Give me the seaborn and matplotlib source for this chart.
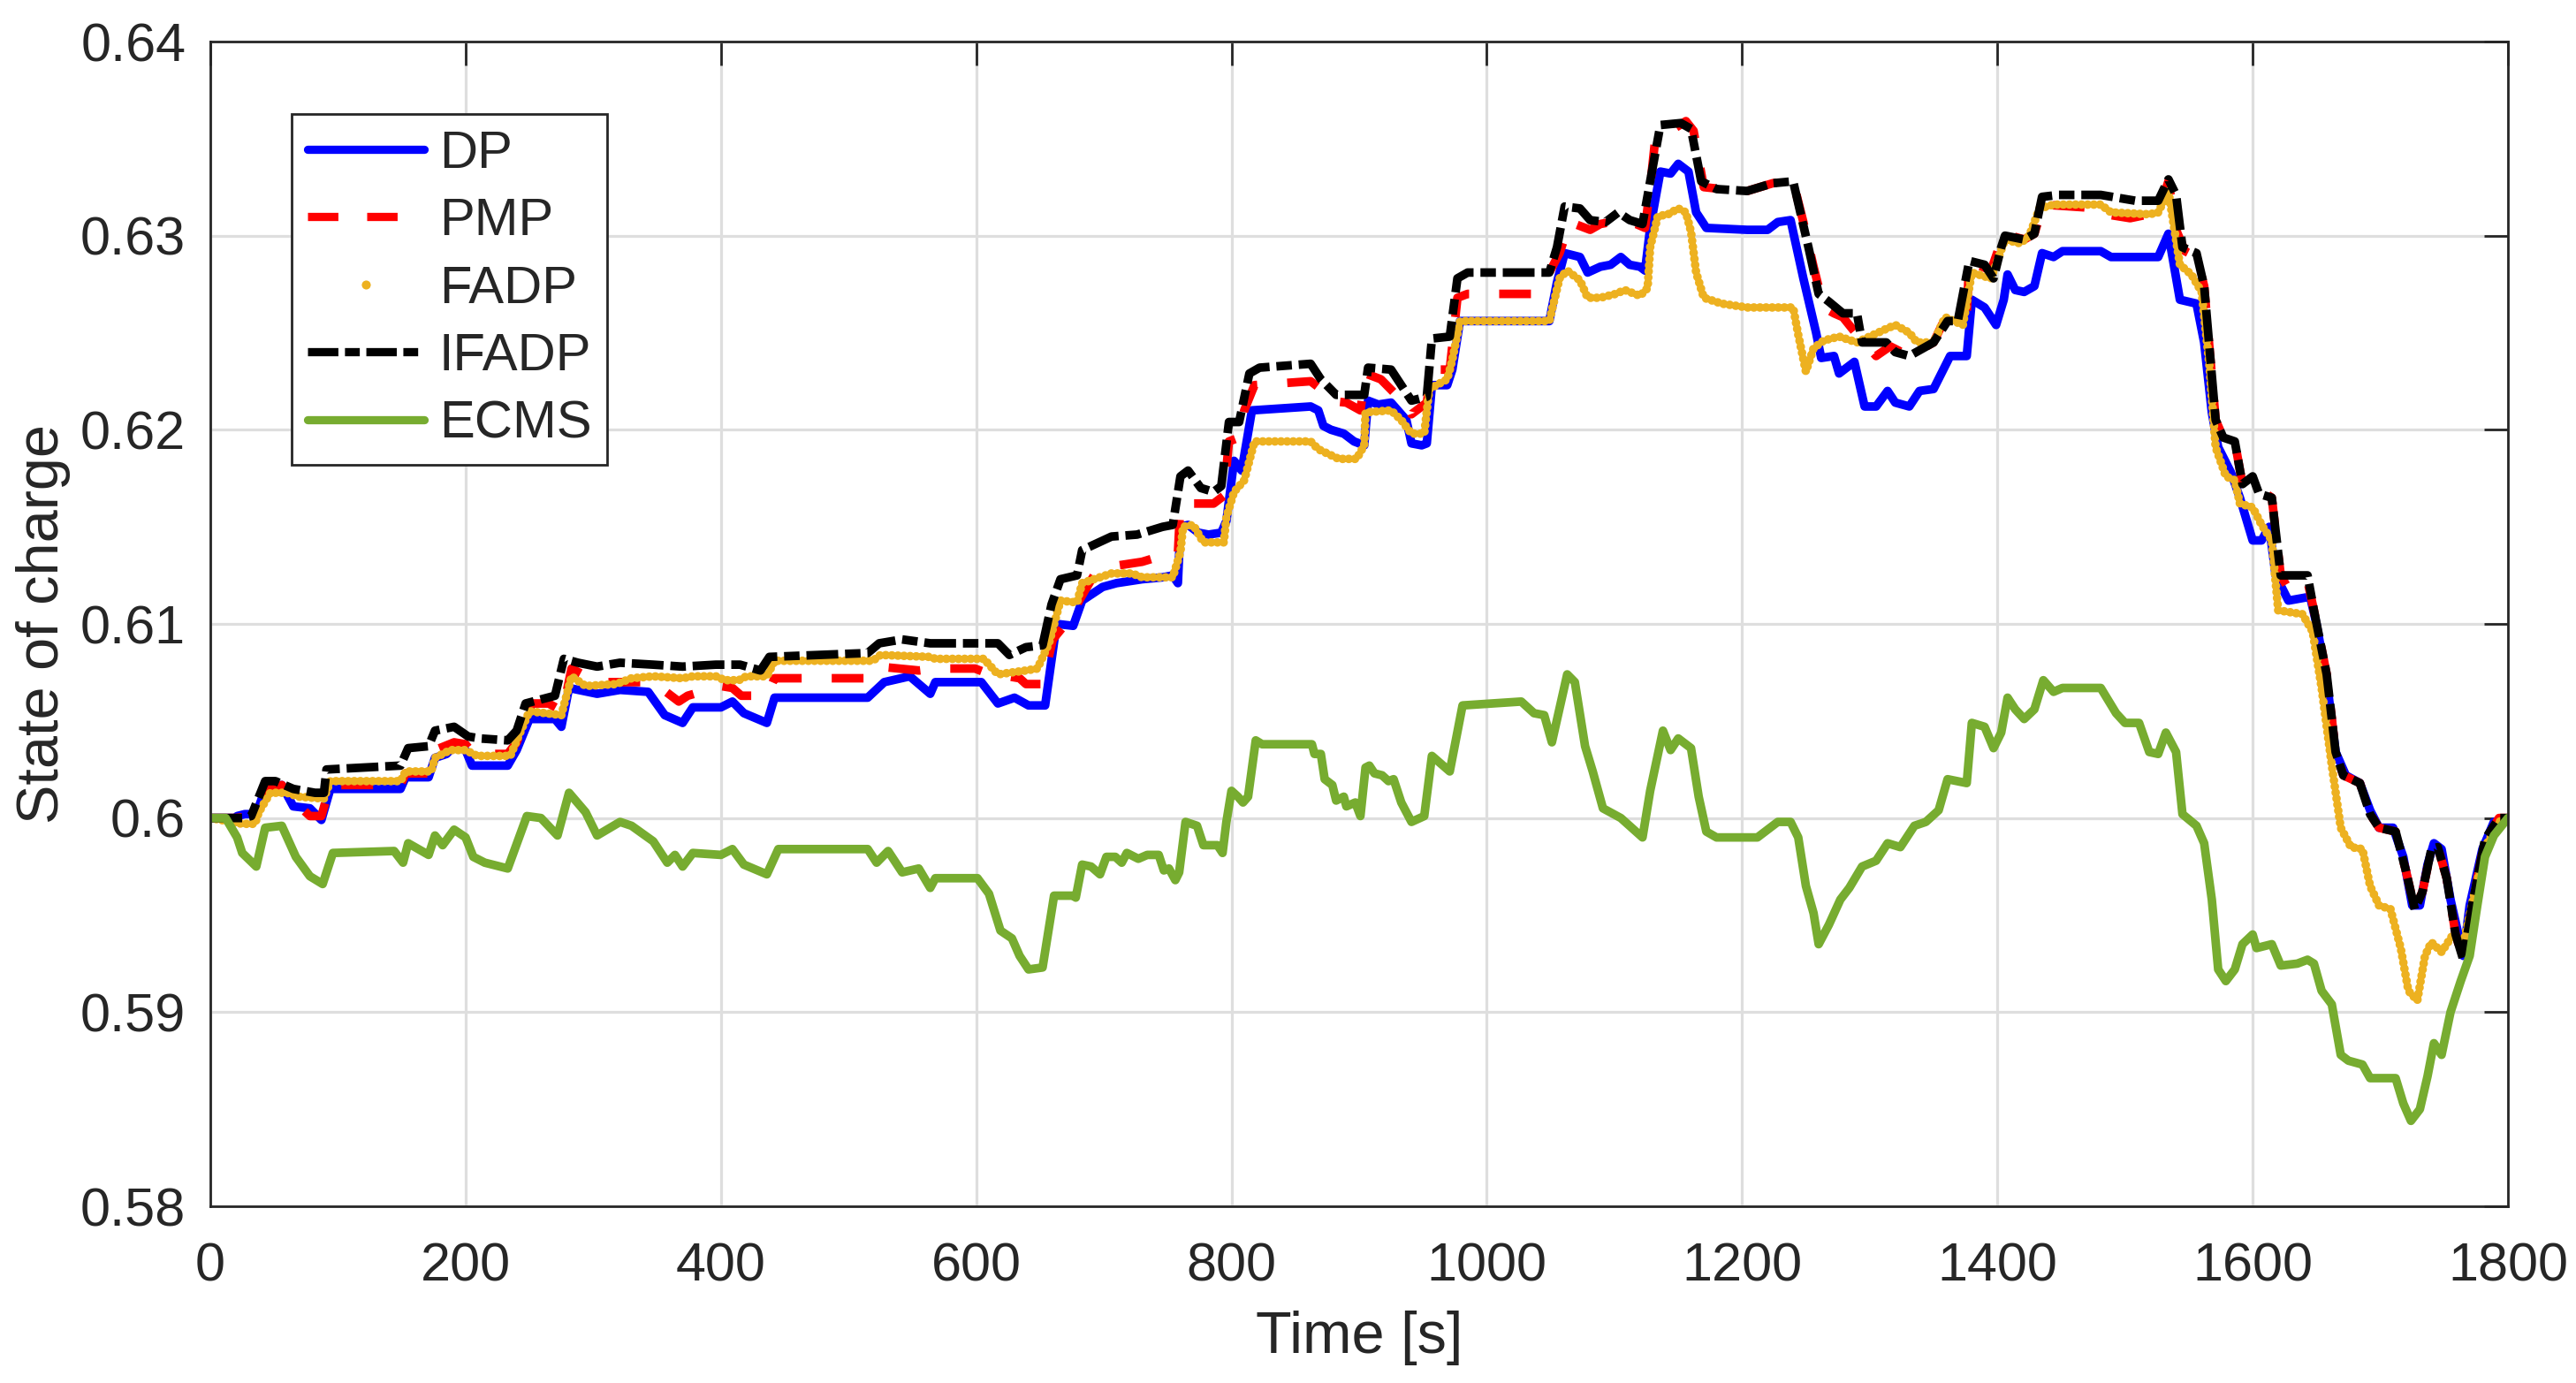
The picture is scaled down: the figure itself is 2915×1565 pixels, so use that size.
import matplotlib
matplotlib.use("Agg")
import matplotlib.pyplot as plt
import seaborn as sns
from matplotlib.lines import Line2D
from matplotlib.ticker import FuncFormatter

# ---- data (time [s], state of charge) ----
t_dp = [0, 20, 21, 27, 36, 43, 56, 65, 78, 87, 94, 149, 153, 171, 176, 185, 191, 200, 205, 233,
        240, 250, 270, 275, 281, 303, 321, 343, 356, 370, 378, 400, 409, 418, 436, 442, 515, 528,
        548, 564, 568, 604, 617, 630, 641, 654, 663, 676, 683, 699, 710, 730, 746, 754, 758, 760,
        766, 774, 782, 792, 796, 802, 808, 816, 862, 868, 872, 878, 888, 896, 904, 907, 915, 925,
        937, 941, 949, 953, 957, 969, 973, 979, 1049, 1055, 1061, 1073, 1079, 1089, 1097, 1105,
        1112, 1120, 1124, 1128, 1136, 1144, 1150, 1158, 1164, 1172, 1204, 1220, 1228, 1238, 1248,
        1258, 1262, 1272, 1276, 1288, 1296, 1305, 1314, 1320, 1331, 1339, 1350, 1363, 1376, 1380,
        1390, 1399, 1405, 1408, 1414, 1421, 1429, 1435, 1444, 1451, 1481, 1489, 1519, 1526, 1534,
        1543, 1556, 1562, 1568, 1573, 1583, 1590, 1600, 1607, 1613, 1618, 1628, 1645, 1650, 1658,
        1665, 1673, 1684, 1692, 1699, 1710, 1718, 1725, 1731, 1737, 1742, 1748, 1755, 1765, 1770,
        1780, 1789, 1800]
soc_dp = [0.6, 0.6, 0.6001, 0.6002, 0.6002, 0.6015, 0.6017, 0.6006, 0.6005, 0.5999, 0.6015, 0.6015,
          0.6021, 0.6021, 0.6031, 0.6033, 0.6037, 0.6035, 0.6027, 0.6027, 0.6035, 0.6051, 0.6051,
          0.6047, 0.6067, 0.6064, 0.6066, 0.6065, 0.6053, 0.6049, 0.6057, 0.6057, 0.606, 0.6054,
          0.6049, 0.6062, 0.6062, 0.607, 0.6073, 0.6064, 0.607, 0.607, 0.6059, 0.6062, 0.6058,
          0.6058, 0.61, 0.6099, 0.6112, 0.6119, 0.6121, 0.6123, 0.6124, 0.6125, 0.6121, 0.615,
          0.6151, 0.6147, 0.6146, 0.6147, 0.6153, 0.6184, 0.6179, 0.621, 0.6212, 0.621, 0.6202,
          0.62, 0.6198, 0.6194, 0.6192, 0.6215, 0.6213, 0.6214, 0.6205, 0.6193, 0.6192, 0.6193,
          0.6223, 0.6223, 0.6231, 0.6256, 0.6256, 0.6276, 0.6291, 0.6289, 0.6281, 0.6284, 0.6285,
          0.6289, 0.6285, 0.6284, 0.6282, 0.6304, 0.6333, 0.6332, 0.6337, 0.6333, 0.6312, 0.6304,
          0.6303, 0.6303, 0.6307, 0.6308, 0.6278, 0.625, 0.6237, 0.6238, 0.6229, 0.6235, 0.6212,
          0.6212, 0.622, 0.6214, 0.6212, 0.622, 0.6221, 0.6238, 0.6238, 0.6267, 0.6263, 0.6254,
          0.6267, 0.628, 0.6272, 0.6271, 0.6274, 0.6291, 0.6289, 0.6292, 0.6292, 0.6289, 0.6289,
          0.6289, 0.6301, 0.6267, 0.6265, 0.6245, 0.6209, 0.6191, 0.6178, 0.6165, 0.6143, 0.6143,
          0.615, 0.6125, 0.6112, 0.6114, 0.61, 0.6071, 0.6034, 0.6022, 0.6018, 0.6004, 0.5995,
          0.5995, 0.598, 0.5955, 0.5955, 0.5976, 0.5987, 0.5984, 0.5958, 0.5929, 0.5955, 0.5984,
          0.5998, 0.6]

t_pmp = [0, 20, 32, 38, 43, 56, 65, 78, 87, 94, 149, 153, 171, 176, 191, 200, 206, 233, 240, 252,
         265, 276, 283, 303, 347, 367, 374, 400, 409, 416, 436, 442, 515, 524, 555, 568, 599, 607,
         634, 639, 652, 660, 670, 679, 685, 695, 710, 730, 750, 758, 760, 786, 794, 798, 806, 810,
         818, 862, 870, 876, 890, 901, 905, 917, 929, 937, 941, 953, 957, 971, 977, 985, 1037,
         1049, 1057, 1065, 1081, 1089, 1105, 1117, 1124, 1128, 1132, 1144, 1156, 1162, 1170, 1184,
         1204, 1224, 1240, 1248, 1256, 1264, 1272, 1279, 1290, 1305, 1316, 1331, 1350, 1361, 1376,
         1378, 1395, 1405, 1421, 1429, 1436, 1481, 1485, 1504, 1526, 1534, 1540, 1547, 1556, 1562,
         1571, 1577, 1586, 1592, 1600, 1615, 1622, 1628, 1643, 1648, 1658, 1665, 1671, 1684, 1692,
         1699, 1712, 1720, 1727, 1733, 1740, 1745, 1752, 1759, 1765, 1772, 1782, 1793, 1800]
soc_pmp = [0.6, 0.6, 0.6001, 0.6007, 0.6015, 0.6017, 0.6009, 0.6001, 0.6001, 0.6017, 0.6017, 0.6023,
           0.6023, 0.6035, 0.6039, 0.6038, 0.6033, 0.6033, 0.6039, 0.6059, 0.6059, 0.6055, 0.6077,
           0.607, 0.607, 0.606, 0.6063, 0.6068, 0.6067, 0.6063, 0.6063, 0.6072, 0.6072, 0.6078,
           0.6076, 0.6077, 0.6077, 0.6075, 0.6072, 0.6069, 0.6069, 0.6092, 0.61, 0.611, 0.6117,
           0.6128, 0.613, 0.6132, 0.6136, 0.6136, 0.6162, 0.6162, 0.6166, 0.6194, 0.6196, 0.621,
           0.6223, 0.6225, 0.6221, 0.6215, 0.6214, 0.621, 0.6229, 0.6226, 0.6218, 0.6215, 0.6208,
           0.6214, 0.6231, 0.6231, 0.6268, 0.627, 0.627, 0.6281, 0.6291, 0.6307, 0.6303, 0.6306,
           0.6308, 0.6306, 0.6304, 0.6325, 0.635, 0.6354, 0.6359, 0.6354, 0.6325, 0.6324, 0.6323,
           0.6327, 0.6328, 0.6307, 0.6284, 0.6263, 0.626, 0.6258, 0.6249, 0.6238, 0.6243, 0.6238,
           0.6245, 0.626, 0.626, 0.6287, 0.6282, 0.6301, 0.6298, 0.6301, 0.6316, 0.6314, 0.6311,
           0.6309, 0.6312, 0.6328, 0.6303, 0.6292, 0.6289, 0.6274, 0.6205, 0.6196, 0.6194, 0.6172,
           0.6172, 0.6165, 0.6125, 0.6118, 0.6122, 0.6107, 0.6074, 0.6034, 0.6022, 0.6018, 0.6002,
           0.5995, 0.5993, 0.5973, 0.5953, 0.5962, 0.5984, 0.5985, 0.5969, 0.594, 0.5927, 0.5955,
           0.5989, 0.6, 0.6]

t_fadp = [0, 25, 35, 38, 47, 60, 69, 89, 94, 149, 153, 173, 176, 188, 200, 209, 235, 242, 250, 275,
          283, 294, 318, 330, 347, 370, 378, 396, 403, 414, 420, 436, 442, 519, 525, 564, 568, 606,
          617, 639, 648, 657, 666, 679, 683, 706, 722, 730, 754, 760, 762, 770, 778, 794, 796, 802,
          810, 818, 862, 868, 884, 898, 904, 905, 925, 933, 941, 951, 955, 969, 973, 979, 1049,
          1057, 1063, 1073, 1079, 1089, 1101, 1108, 1120, 1126, 1128, 1134, 1142, 1150, 1156, 1160,
          1164, 1170, 1184, 1204, 1240, 1244, 1250, 1256, 1264, 1276, 1290, 1313, 1320, 1331, 1337,
          1350, 1359, 1373, 1380, 1395, 1406, 1418, 1425, 1433, 1444, 1481, 1489, 1519, 1526, 1534,
          1543, 1552, 1560, 1566, 1571, 1579, 1586, 1590, 1600, 1607, 1615, 1620, 1639, 1647, 1654,
          1662, 1669, 1677, 1686, 1692, 1699, 1708, 1716, 1722, 1729, 1735, 1740, 1748, 1757, 1765,
          1772, 1782, 1793, 1800]
soc_fadp = [0.6, 0.5997, 0.5997, 0.6003, 0.6013, 0.6013, 0.6011, 0.601, 0.6019, 0.6019, 0.6024,
            0.6024, 0.6031, 0.6035, 0.6035, 0.6032, 0.6032, 0.6043, 0.6055, 0.6053, 0.6073, 0.6068,
            0.6069, 0.6072, 0.6073, 0.6072, 0.6073, 0.6073, 0.6071, 0.6071, 0.6073, 0.6073, 0.6081,
            0.6081, 0.6084, 0.6083, 0.6082, 0.6082, 0.6074, 0.6076, 0.6077, 0.609, 0.6112, 0.6111,
            0.6121, 0.6126, 0.6126, 0.6124, 0.6124, 0.6137, 0.615, 0.6151, 0.6142, 0.6142, 0.6155,
            0.6168, 0.6174, 0.6194, 0.6194, 0.619, 0.6185, 0.6185, 0.6192, 0.6209, 0.621, 0.6205,
            0.6198, 0.6198, 0.6221, 0.6226, 0.6236, 0.6256, 0.6256, 0.6278, 0.6282, 0.6277, 0.6268,
            0.6268, 0.627, 0.6272, 0.6269, 0.6273, 0.6294, 0.631, 0.6311, 0.6314, 0.6312, 0.6302,
            0.6281, 0.6268, 0.6265, 0.6263, 0.6263, 0.6249, 0.623, 0.6242, 0.6246, 0.6248, 0.6245,
            0.6252, 0.6254, 0.625, 0.6245, 0.6245, 0.6258, 0.6254, 0.6281, 0.6278, 0.6298, 0.6296,
            0.63, 0.6314, 0.6316, 0.6316, 0.6312, 0.6311, 0.6312, 0.6323, 0.6285, 0.628, 0.6271,
            0.6234, 0.6191, 0.6176, 0.6174, 0.6162, 0.616, 0.6151, 0.6143, 0.6107, 0.6105, 0.6096,
            0.6067, 0.6027, 0.5995, 0.5985, 0.5984, 0.5965, 0.5955, 0.5953, 0.5933, 0.5911, 0.5906,
            0.5929, 0.5936, 0.5931, 0.594, 0.5935, 0.5956, 0.5985, 0.5998, 0.6]

t_ifadp = [0, 25, 32, 43, 51, 65, 82, 89, 91, 149, 155, 171, 176, 191, 202, 211, 233, 240, 247, 270,
           277, 288, 303, 321, 347, 370, 396, 415, 431, 438, 515, 524, 542, 564, 617, 626, 639, 652,
           659, 666, 679, 683, 706, 726, 746, 754, 760, 766, 776, 786, 792, 798, 806, 814, 822, 862,
           870, 882, 904, 907, 925, 933, 941, 953, 957, 971, 977, 985, 1049, 1055, 1061, 1073, 1081,
           1093, 1103, 1112, 1122, 1128, 1136, 1152, 1160, 1168, 1180, 1204, 1224, 1240, 1252, 1260,
           1268, 1279, 1290, 1294, 1313, 1320, 1331, 1350, 1361, 1369, 1378, 1390, 1397, 1403, 1406,
           1421, 1429, 1435, 1448, 1481, 1508, 1526, 1534, 1540, 1545, 1556, 1562, 1571, 1577, 1586,
           1592, 1600, 1605, 1615, 1622, 1643, 1648, 1658, 1665, 1671, 1684, 1692, 1699, 1712, 1720,
           1727, 1733, 1740, 1745, 1752, 1759, 1765, 1772, 1782, 1793, 1800]
soc_ifadp = [0.6, 0.6, 0.6001, 0.6019, 0.6019, 0.6015, 0.6013, 0.6013, 0.6025, 0.6027, 0.6036,
             0.6037, 0.6045, 0.6047, 0.6042, 0.6041, 0.604, 0.6045, 0.6059, 0.6063, 0.6082, 0.608,
             0.6078, 0.608, 0.6079, 0.6078, 0.6079, 0.6079, 0.6076, 0.6083, 0.6085, 0.609, 0.6092,
             0.609, 0.609, 0.6084, 0.6088, 0.6089, 0.611, 0.6123, 0.6125, 0.6138, 0.6145, 0.6146,
             0.615, 0.6151, 0.6176, 0.6179, 0.617, 0.6168, 0.6171, 0.6204, 0.6204, 0.6229, 0.6232,
             0.6234, 0.6226, 0.6218, 0.6218, 0.6232, 0.6231, 0.6223, 0.6215, 0.6217, 0.6247, 0.6248,
             0.6278, 0.6281, 0.6281, 0.6294, 0.6315, 0.6314, 0.6308, 0.6307, 0.6312, 0.6308, 0.6306,
             0.6328, 0.6357, 0.6358, 0.6355, 0.6328, 0.6324, 0.6323, 0.6327, 0.6328, 0.6294, 0.627,
             0.6266, 0.626, 0.626, 0.6245, 0.6245, 0.624, 0.6238, 0.6245, 0.6256, 0.6256, 0.6287,
             0.6285, 0.6278, 0.6294, 0.63, 0.6298, 0.6301, 0.632, 0.6321, 0.6321, 0.6318, 0.6318,
             0.6329, 0.6321, 0.6294, 0.6291, 0.6274, 0.6205, 0.6196, 0.6194, 0.6172, 0.6176, 0.6167,
             0.6165, 0.6125, 0.6125, 0.6107, 0.6074, 0.6034, 0.6022, 0.6018, 0.6002, 0.5995, 0.5993,
             0.5973, 0.5953, 0.5962, 0.5984, 0.5985, 0.5969, 0.594, 0.5927, 0.5955, 0.5989, 0.6, 0.6]

t_ecms = [0, 12, 21, 25, 36, 43, 56, 67, 78, 88, 96, 144, 151, 155, 171, 176, 182, 191, 200, 206,
          215, 233, 248, 259, 272, 281, 294, 303, 321, 330, 347, 358, 364, 370, 378, 400, 409, 418,
          436, 445, 515, 522, 531, 542, 555, 564, 568, 601, 610, 619, 628, 634, 641, 652, 661, 676,
          678, 683, 690, 697, 702, 709, 714, 718, 727, 734, 743, 747, 751, 756, 759, 764, 773, 778,
          789, 793, 796, 800, 805, 809, 813, 819, 824, 863, 865, 870, 873, 879, 882, 888, 890, 897,
          901, 905, 908, 912, 918, 923, 927, 933, 941, 951, 957, 971, 981, 1027, 1037, 1045, 1051,
          1063, 1069, 1077, 1083, 1091, 1105, 1122, 1128, 1138, 1144, 1150, 1160, 1166, 1172, 1180,
          1212, 1228, 1238, 1244, 1250, 1256, 1260, 1268, 1277, 1284, 1294, 1305, 1314, 1324, 1335,
          1344, 1354, 1361, 1376, 1380, 1390, 1397, 1403, 1408, 1414, 1421, 1429, 1436, 1444, 1451,
          1481, 1493, 1500, 1511, 1519, 1526, 1532, 1540, 1545, 1556, 1562, 1568, 1573, 1579, 1586,
          1592, 1600, 1603, 1615, 1622, 1635, 1643, 1648, 1654, 1662, 1669, 1675, 1686, 1692, 1712,
          1718, 1724, 1731, 1737, 1742, 1748, 1755, 1763, 1770, 1776, 1782, 1789, 1800]
soc_ecms = [0.6, 0.6, 0.599, 0.5982, 0.5975, 0.5995, 0.5996, 0.598, 0.597, 0.5966, 0.5982, 0.5983,
            0.5977, 0.5987, 0.5981, 0.5991, 0.5986, 0.5994, 0.599, 0.598, 0.5977, 0.5974, 0.6001,
            0.6, 0.5991, 0.6013, 0.6003, 0.5991, 0.5998, 0.5996, 0.5988, 0.5977, 0.5981, 0.5975,
            0.5982, 0.5981, 0.5984, 0.5976, 0.5971, 0.5984, 0.5984, 0.5977, 0.5983, 0.5972, 0.5974,
            0.5964, 0.5969, 0.5969, 0.5961, 0.5942, 0.5938, 0.5929, 0.5922, 0.5923, 0.596, 0.596,
            0.5959, 0.5976, 0.5975, 0.5971, 0.598, 0.598, 0.5977, 0.5982, 0.5979, 0.5981, 0.5981,
            0.5973, 0.5974, 0.5968, 0.5972, 0.5998, 0.5996, 0.5986, 0.5986, 0.5982, 0.5998, 0.6014,
            0.6011, 0.6008, 0.6011, 0.604, 0.6038, 0.6038, 0.6033, 0.6033, 0.602, 0.6017, 0.6009,
            0.6011, 0.6006, 0.6008, 0.6001, 0.6026, 0.6027, 0.6023, 0.6022, 0.6019, 0.602, 0.6008,
            0.5998, 0.6001, 0.6032, 0.6024, 0.6058, 0.606, 0.6054, 0.6053, 0.6039, 0.6074, 0.607,
            0.6037, 0.6024, 0.6005, 0.6, 0.599, 0.6014, 0.6045, 0.6035, 0.6041, 0.6036, 0.6011,
            0.5993, 0.599, 0.599, 0.5998, 0.5998, 0.599, 0.5965, 0.5951, 0.5935, 0.5945, 0.5958,
            0.5964, 0.5975, 0.5978, 0.5987, 0.5985, 0.5996, 0.5998, 0.6004, 0.602, 0.6018, 0.6049,
            0.6047, 0.6036, 0.6044, 0.6062, 0.6056, 0.6051, 0.6056, 0.6071, 0.6065, 0.6067, 0.6067,
            0.6054, 0.6049, 0.6049, 0.6034, 0.6033, 0.6044, 0.6034, 0.6002, 0.5996, 0.5987, 0.5958,
            0.5922, 0.5916, 0.5922, 0.5935, 0.594, 0.5933, 0.5935, 0.5924, 0.5925, 0.5927, 0.5925,
            0.5911, 0.5904, 0.5878, 0.5875, 0.5873, 0.5866, 0.5866, 0.5853, 0.5844, 0.585, 0.5867,
            0.5884, 0.5878, 0.59, 0.5916, 0.5929, 0.5955, 0.598, 0.5991, 0.6]

x_ticks = [0, 200, 400, 600, 800, 1000, 1200, 1400, 1600, 1800]
y_ticks = [0.58, 0.59, 0.60, 0.61, 0.62, 0.63, 0.64]

sns.set_style("white")
plt.rcParams['font.family'] = ['Liberation Sans', 'DejaVu Sans']

INK = '#262626'
LW = 7.0

fig = plt.figure(figsize=(29.15, 15.65), dpi=100)
ax = fig.add_axes([238 / 2915, 1 - 1365 / 1565, 2600 / 2915, 1318 / 1565])

# MATLAB-like colours, drawn in the original order
series = [
    ("DP", t_dp, soc_dp, "#0000ff", "-"),
    ("PMP", t_pmp, soc_pmp, "#ff0000", (0, (3.7, 3.5))),
    ("FADP", t_fadp, soc_fadp, "#edb120", (0, (0.01, 0.7))),
    ("IFADP", t_ifadp, soc_ifadp, "#000000", (0, (3.7, 0.8, 1.8, 0.8))),
    ("ECMS", t_ecms, soc_ecms, "#77ac30", "-"),
]

handles = []
for name, t, soc, col, ls in series:
    sns.lineplot(x=t, y=soc, ax=ax, color=col, linewidth=LW, linestyle=ls,
                 legend=False, estimator=None, sort=False)
    line = ax.lines[-1]
    line.set_solid_joinstyle('round')
    if name == "FADP":
        line.set_dash_capstyle('round')
        handles.append(Line2D([], [], color=col, marker='o', markersize=7.3,
                              markeredgewidth=0, linestyle='None'))
    else:
        line.set_dash_capstyle('butt')
        handles.append(Line2D([], [], color=col, linewidth=6.7, linestyle=ls))

ax.set_xlim(0, 1800)
ax.set_ylim(0.58, 0.64)
ax.set_xticks(x_ticks)
ax.set_yticks(y_ticks)
ax.yaxis.set_major_formatter(FuncFormatter(lambda v, p: f"{v:g}"))

ax.grid(True, color='#dedede', linewidth=2.3)
ax.set_axisbelow(True)
for sp in ax.spines.values():
    sp.set_visible(True)
    sp.set_color(INK)
    sp.set_linewidth(2)

ax.tick_params(axis='both', direction='in', length=19.5, width=2, colors=INK,
               labelsize=44, top=True, right=True)
ax.tick_params(axis='x', pad=29)
ax.tick_params(axis='y', pad=20)

ax.set_xlabel("Time [s]", fontsize=48, color=INK, labelpad=15)
ax.set_ylabel("State of charge", fontsize=48, color=INK, labelpad=8)

leg = ax.legend(handles, [s[0] for s in series], loc='upper left',
                bbox_to_anchor=(0.0354, 0.9378), borderaxespad=0, fontsize=43,
                handlelength=2.21, handletextpad=0.28, labelspacing=0.36,
                borderpad=0.3, frameon=True, fancybox=False, framealpha=1,
                edgecolor=INK)
leg.get_frame().set_linewidth(2)

fig.savefig("out.png", dpi=100)
